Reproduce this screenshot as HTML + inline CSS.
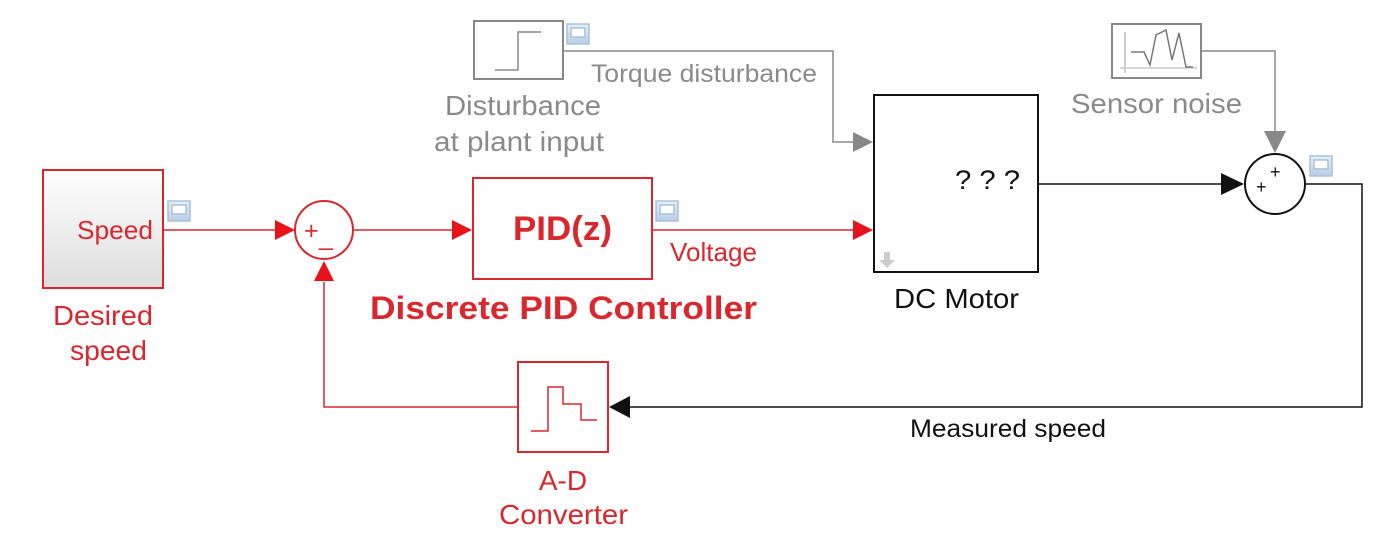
<!DOCTYPE html>
<html><head><meta charset="utf-8"><style>
html,body{margin:0;padding:0;background:#fff;}
svg{display:block;font-family:"Liberation Sans",Arial,sans-serif;}
</style></head><body>
<svg width="1400" height="558" viewBox="0 0 1400 558" xmlns="http://www.w3.org/2000/svg">
<defs>
<linearGradient id="g" x1="0" y1="0" x2="0" y2="1"><stop offset="0" stop-color="#fff"/><stop offset="1" stop-color="#ddd"/></linearGradient>
<linearGradient id="sc" x1="0" y1="0" x2="0" y2="1"><stop offset="0" stop-color="#e8f0fa"/><stop offset="1" stop-color="#b9cde6"/></linearGradient>
</defs>
<g stroke="#a9c0dc" stroke-width="1.5" fill="url(#sc)">
<rect x="168" y="201" width="22" height="20"/><rect x="172" y="205" width="14" height="9" fill="#fff"/>
<rect x="656" y="201" width="22" height="20"/><rect x="660" y="205" width="14" height="9" fill="#fff"/>
<rect x="567" y="24" width="22" height="20"/><rect x="571" y="28" width="14" height="9" fill="#fff"/>
<rect x="1310" y="156" width="22" height="20"/><rect x="1314" y="160" width="14" height="9" fill="#fff"/>
</g>
<rect x="43" y="170" width="120" height="118" fill="url(#g)" stroke="#d9272e" stroke-width="2"/>
<text x="77" y="239" font-size="26" fill="#d9272e" textLength="76" lengthAdjust="spacingAndGlyphs">Speed</text>
<text x="53" y="325" font-size="28" fill="#d9272e" textLength="100" lengthAdjust="spacingAndGlyphs">Desired</text>
<text x="70" y="360" font-size="28" fill="#d9272e" textLength="77" lengthAdjust="spacingAndGlyphs">speed</text>
<g stroke="#d9272e" stroke-width="1.5" fill="none">
<line x1="163" y1="230" x2="280" y2="230"/>
<line x1="354" y1="230" x2="456" y2="230"/>
<line x1="652" y1="230" x2="856" y2="230"/>
<polyline points="518,407 324,407 324,282"/>
</g>
<g fill="#e8121b">
<polygon points="275,220 295,230 275,240"/>
<polygon points="452,220 472,230 452,240"/>
<polygon points="853,220 873,230 853,240"/>
<polygon points="314,281 324,261 334,281"/>
</g>
<circle cx="324" cy="230" r="29" fill="#fff" stroke="#d9272e" stroke-width="2"/>
<text x="304" y="239" font-size="25" fill="#d9272e">+</text>
<text x="319" y="245" font-size="25" fill="#d9272e">_</text>
<rect x="473" y="178" width="179" height="101" fill="#fff" stroke="#d9272e" stroke-width="2"/>
<text x="513" y="240" font-size="34" font-weight="bold" fill="#d9272e" textLength="99" lengthAdjust="spacingAndGlyphs">PID(z)</text>
<text x="670" y="261" font-size="26" fill="#d9272e" textLength="87" lengthAdjust="spacingAndGlyphs">Voltage</text>
<text x="370" y="319" font-size="32" font-weight="bold" fill="#d9272e" textLength="387" lengthAdjust="spacingAndGlyphs">Discrete PID Controller</text>
<rect x="518" y="362" width="90" height="90" fill="#fff" stroke="#d9272e" stroke-width="2"/>
<polyline points="531,431 548,431 548,387 563,387 563,404 581,404 581,420 597,420" fill="none" stroke="#d9272e" stroke-width="1.5"/>
<text x="563" y="490" font-size="28" fill="#d9272e" text-anchor="middle">A-D</text>
<text x="499" y="524" font-size="28" fill="#d9272e" textLength="129" lengthAdjust="spacingAndGlyphs">Converter</text>
<rect x="474" y="21" width="89" height="58" fill="#fff" stroke="#888" stroke-width="2"/>
<polyline points="495,70 518,70 518,32 541,32" fill="none" stroke="#888" stroke-width="1.5"/>
<text x="445" y="115" font-size="28" fill="#8a8a8a" textLength="156" lengthAdjust="spacingAndGlyphs">Disturbance</text>
<text x="434" y="151" font-size="28" fill="#8a8a8a" textLength="170" lengthAdjust="spacingAndGlyphs">at plant input</text>
<polyline points="563,51 833,51 833,142 856,142" fill="none" stroke="#888" stroke-width="1.5"/>
<polygon points="853,132 873,142 853,152" fill="#888"/>
<text x="591" y="82" font-size="25" fill="#8a8a8a" textLength="226" lengthAdjust="spacingAndGlyphs">Torque disturbance</text>
<rect x="874" y="95" width="164" height="177" fill="#fff" stroke="#111" stroke-width="2"/>
<text x="955" y="189" font-size="27" fill="#111" textLength="65" lengthAdjust="spacingAndGlyphs">? ? ?</text>
<path d="M884,252 h6 v8 h5 l-8,8 l-8,-8 h5 z" fill="#ccc"/>
<text x="894" y="308" font-size="28" fill="#111" textLength="125" lengthAdjust="spacingAndGlyphs">DC Motor</text>
<rect x="1112" y="24" width="89" height="54" fill="#fff" stroke="#888" stroke-width="2"/>
<polyline points="1125,32 1125,73" stroke="#bbb" stroke-width="1.5"/>
<polyline points="1120,68 1197,68" stroke="#ccc" stroke-width="1.5"/>
<polyline points="1131,52 1144,52 1150,65 1156,35 1166,30 1172,60 1179,33 1186,67 1193,67" fill="none" stroke="#777" stroke-width="1.5"/>
<text x="1071" y="113" font-size="28" fill="#8a8a8a" textLength="171" lengthAdjust="spacingAndGlyphs">Sensor noise</text>
<polyline points="1201,51 1275,51 1275,134" fill="none" stroke="#888" stroke-width="1.5"/>
<polygon points="1264,131 1275,153 1286,131" fill="#888"/>
<line x1="1038" y1="184" x2="1224" y2="184" stroke="#111" stroke-width="1.5"/>
<polygon points="1221,173 1244,184 1221,195" fill="#111"/>
<circle cx="1275" cy="184" r="30" fill="#fff" stroke="#111" stroke-width="2"/>
<text x="1256" y="193" font-size="18" fill="#111">+</text>
<text x="1270" y="178" font-size="18" fill="#111">+</text>
<polyline points="1305,184 1362,184 1362,407 630,407" fill="none" stroke="#111" stroke-width="1.5"/>
<polygon points="630,396 609,407 630,418" fill="#111"/>
<text x="910" y="437" font-size="25" fill="#111" textLength="196" lengthAdjust="spacingAndGlyphs">Measured speed</text>
</svg>
</body></html>
